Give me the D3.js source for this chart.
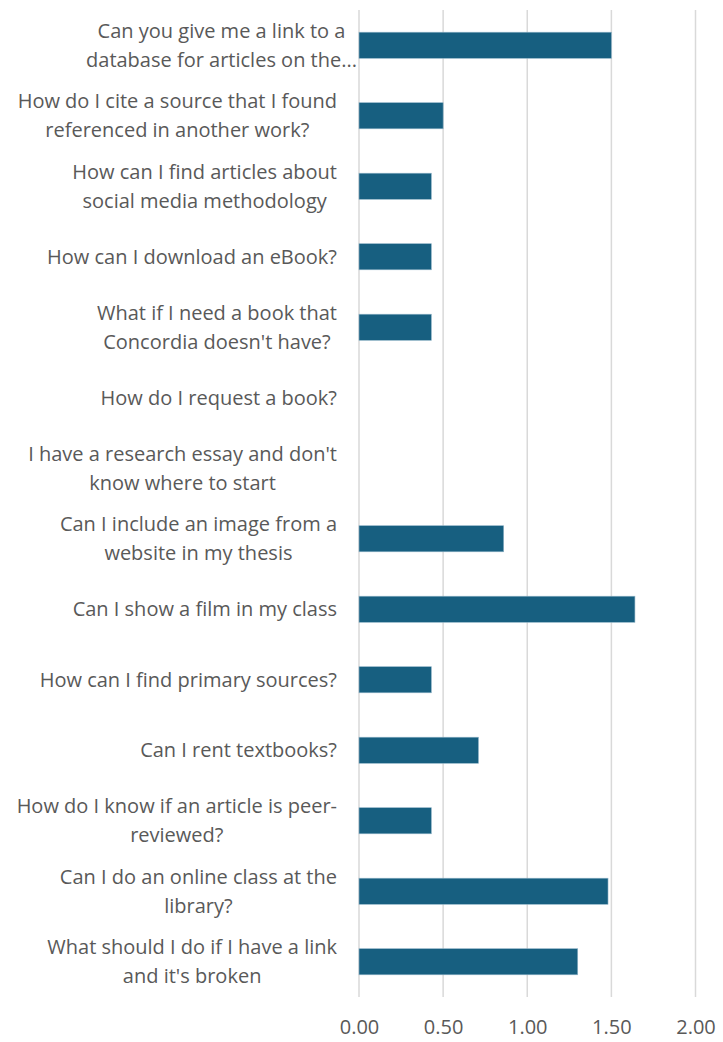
<!DOCTYPE html>
<html>
<head>
<meta charset="utf-8">
<script src="https://cdn.jsdelivr.net/npm/d3@7"></script>
<style>
  html, body { margin: 0; padding: 0; background: #ffffff; }
  svg { display: block; }
</style>
</head>
<body>
<svg id="chart" width="723" height="1042"></svg>
<script>
// Questions (line breaks as shown on the axis)
const categories = [
  "Can you give me a link to a\ndatabase for articles on the...",
  "How do I cite a source that I found\nreferenced in another work?",
  "How can I find articles about\nsocial media methodology",
  "How can I download an eBook?",
  "What if I need a book that\nConcordia doesn't have?",
  "How do I request a book?",
  "I have a research essay and don't\nknow where to start",
  "Can I include an image from a\nwebsite in my thesis",
  "Can I show a film in my class",
  "How can I find primary sources?",
  "Can I rent textbooks?",
  "How do I know if an article is peer-\nreviewed?",
  "Can I do an online class at the\nlibrary?",
  "What should I do if I have a link\nand it's broken"
];
const values = [1.50, 0.50, 0.43, 0.43, 0.43, 0, 0, 0.86, 1.64, 0.43, 0.71, 0.43, 1.48, 1.30];
const tickValues = [0, 0.5, 1.0, 1.5, 2.0];

const margin = { top: 10, right: 27, bottom: 45, left: 359 };
const width = 723, height = 1042;
const svg = d3.select("#chart");
const fontFamily = "'Open Sans', sans-serif";
const textColor = "#595959";
const fontSize = 20;

const x = d3.scaleLinear().domain([0, 2]).range([margin.left, 695.5]);
const y = d3.scaleBand().domain(d3.range(categories.length))
  .range([margin.top, height - margin.bottom]).paddingInner(0.63).paddingOuter(0.315);

// vertical gridlines
svg.append("g").selectAll("line").data(tickValues).join("line")
  .attr("x1", d => x(d)).attr("x2", d => x(d))
  .attr("y1", margin.top).attr("y2", height - margin.bottom)
  .attr("stroke", "#d9d9d9").attr("stroke-width", 1.5);

// bars
svg.append("g").selectAll("rect").data(values).join("rect")
  .attr("x", x(0))
  .attr("y", (d, i) => y(i))
  .attr("width", d => x(d) - x(0))
  .attr("height", y.bandwidth())
  .attr("fill", "#175f80")
  .attr("stroke", "#8fb3c6")
  .attr("stroke-width", d => d > 0 ? 0.6 : 0);

// x axis tick labels
const xAxis = d3.axisBottom(x).tickValues(tickValues).tickFormat(d3.format(".2f")).tickSize(0).tickPadding(23);
const gx = svg.append("g").attr("transform", `translate(0,${height - margin.bottom})`).call(xAxis);
gx.select(".domain").remove();
gx.selectAll("text").attr("fill", textColor).attr("font-size", fontSize).attr("font-family", fontFamily);

// category labels: lines centred within a block whose right edge sits left of the axis;
// a truncated label ("...") runs on into the gap before the axis
const lineH = 29;
const labelRight = 337;
const labels = svg.append("g").attr("font-family", fontFamily).attr("font-size", fontSize).attr("fill", textColor);
categories.forEach((label, i) => {
  const lines = label.split("\n");
  const cy = y(i) + y.bandwidth() / 2;
  const g = labels.append("g");
  const texts = lines.map((ln, j) => g.append("text")
    .attr("y", cy + (j - (lines.length - 1) / 2) * lineH)
    .attr("dy", "0.35em")
    .attr("text-anchor", "middle")
    .text(ln));
  const maxW = d3.max(texts, t => t.node().getComputedTextLength());
  const right = label.endsWith("...") ? x(0) - 2 : labelRight;
  texts.forEach(t => t.attr("x", right - maxW / 2));
});
</script>
</body>
</html>
